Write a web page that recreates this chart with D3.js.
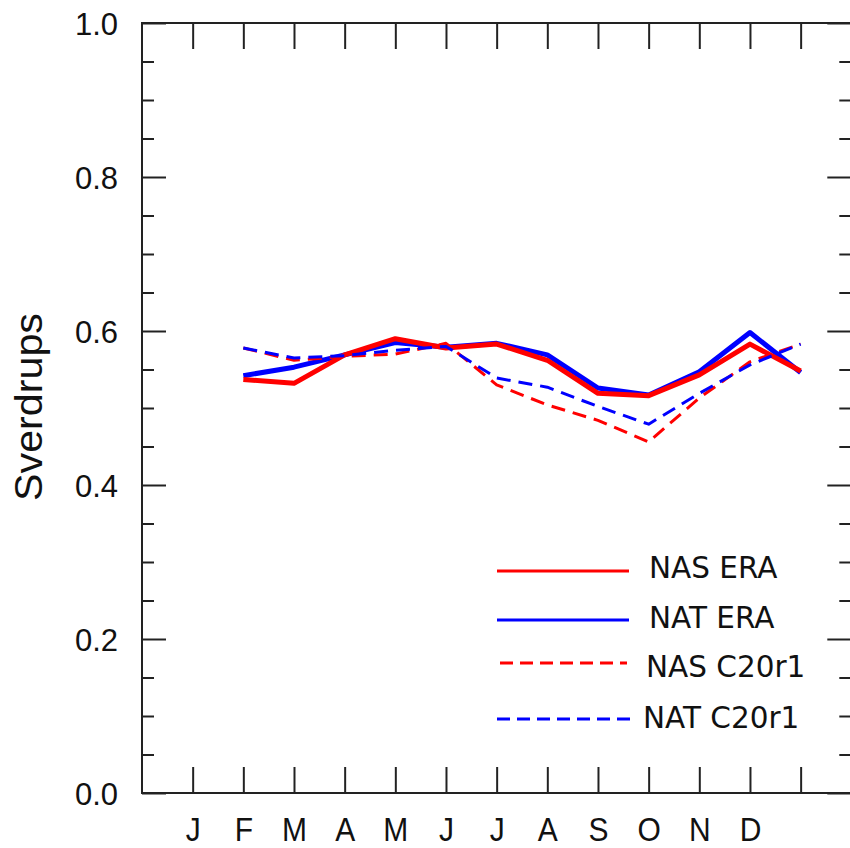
<!DOCTYPE html>
<html>
<head>
<meta charset="utf-8">
<script src="https://cdn.jsdelivr.net/npm/d3@7"></script>
<style>
  html, body { margin: 0; padding: 0; background: #ffffff; }
  svg { display: block; }
</style>
</head>
<body>
<svg id="chart" width="850" height="848"></svg>
<script>
// ---------- data ----------
const monthLabels = ["J", "F", "M", "A", "M", "J", "J", "A", "S", "O", "N", "D", ""];
const monthPositions = [1, 2, 3, 4, 5, 6, 7, 8, 9, 10, 11, 12, 13];
const dataPositions = [2, 3, 4, 5, 6, 7, 8, 9, 10, 11, 12, 13];
const yMajorTicks = [0, 0.2, 0.4, 0.6, 0.8, 1.0];
const yMinorTicks = [0.05, 0.1, 0.15, 0.25, 0.3, 0.35, 0.45, 0.5, 0.55, 0.65, 0.7, 0.75, 0.85, 0.9, 0.95];

const nasEra   = [0.537, 0.532, 0.569, 0.590, 0.578, 0.583, 0.562, 0.519, 0.516, 0.543, 0.583, 0.548];
const natEra   = [0.542, 0.553, 0.569, 0.585, 0.579, 0.584, 0.569, 0.526, 0.517, 0.547, 0.598, 0.546];
const nasC20r1 = [0.578, 0.562, 0.567, 0.570, 0.584, 0.530, 0.504, 0.484, 0.456, 0.513, 0.560, 0.583];
const natC20r1 = [0.578, 0.565, 0.568, 0.575, 0.580, 0.539, 0.527, 0.502, 0.479, 0.519, 0.556, 0.583];

const seriesNames = ["NAS ERA", "NAT ERA", "NAS C20r1", "NAT C20r1"];

// ---------- layout ----------
const svg = d3.select("#chart");
const plotLeft = 142, plotTop = 23, plotBottom = 793, plotRight = 851.3;
const x = d3.scaleLinear().domain([0, 14]).range([plotLeft, plotRight]);
const y = d3.scaleLinear().domain([0, 1]).range([plotBottom, plotTop]);

const axisColor = "#222";
const tickFont = "'Liberation Sans', Arial, Helvetica, sans-serif";

// frame
svg.append("rect")
  .attr("x", plotLeft).attr("y", plotTop)
  .attr("width", plotRight - plotLeft).attr("height", plotBottom - plotTop)
  .attr("fill", "none").attr("stroke", axisColor).attr("stroke-width", 2);

function styleAxis(g) {
  g.select(".domain").remove();
  g.selectAll(".tick line").attr("stroke", axisColor).attr("stroke-width", 2);
}

// left major
svg.append("g").attr("transform", `translate(${plotLeft},0)`)
  .call(d3.axisLeft(y).tickValues(yMajorTicks).tickSize(-24).tickPadding(24).tickFormat(d3.format(".1f")))
  .call(styleAxis)
  .call(g => g.selectAll("text")
    .attr("font-family", tickFont).attr("font-size", 31).attr("fill", "#111")
    .attr("dy", "0.36em"));
// left minor
svg.append("g").attr("transform", `translate(${plotLeft},0)`)
  .call(d3.axisLeft(y).tickValues(yMinorTicks).tickSize(-12).tickFormat(""))
  .call(styleAxis);
// right major / minor
svg.append("g").attr("transform", `translate(${plotRight},0)`)
  .call(d3.axisRight(y).tickValues(yMajorTicks).tickSize(-24).tickFormat(""))
  .call(styleAxis);
svg.append("g").attr("transform", `translate(${plotRight},0)`)
  .call(d3.axisRight(y).tickValues(yMinorTicks).tickSize(-12).tickFormat(""))
  .call(styleAxis);
// bottom
svg.append("g").attr("transform", `translate(0,${plotBottom})`)
  .call(d3.axisBottom(x).tickValues(monthPositions).tickSize(-26)
    .tickFormat((d, i) => monthLabels[i]))
  .call(styleAxis)
  .call(g => g.selectAll("text")
    .attr("font-family", tickFont).attr("font-size", 30).attr("fill", "#111")
    .attr("dy", 0)
    .attr("y", 48)
    .attr("transform", "translate(0,48) scale(1,1.1) translate(0,-48)"));
// top
svg.append("g").attr("transform", `translate(0,${plotTop})`)
  .call(d3.axisTop(x).tickValues(monthPositions).tickSize(-26).tickFormat(""))
  .call(styleAxis);

// y label
svg.append("text")
  .attr("transform", "translate(42,407) rotate(-90)")
  .attr("text-anchor", "middle")
  .attr("font-family", tickFont).attr("font-size", 38).attr("fill", "#111")
  .attr("textLength", 188).attr("lengthAdjust", "spacingAndGlyphs")
  .text("Sverdrups");

// ---------- lines ----------
const line = d3.line().x((d, i) => x(dataPositions[i])).y(d => y(d));
const plotOrder = [
  { data: natEra, color: "#0000ff", width: 5, dash: null },
  { data: nasEra, color: "#ff0000", width: 5, dash: null },
  { data: nasC20r1, color: "#ff0000", width: 3, dash: "14,8" },
  { data: natC20r1, color: "#0000ff", width: 3, dash: "14,8" }
];
plotOrder.forEach(s => {
  svg.append("path").datum(s.data)
    .attr("d", line)
    .attr("fill", "none")
    .attr("stroke", s.color)
    .attr("stroke-width", s.width)
    .attr("stroke-linejoin", "round")
    .attr("stroke-dasharray", s.dash);
});

// ---------- legend ----------
const legendItems = [
  { name: seriesNames[0], color: "#ff0000", dash: null, ly: 571, x1: 497, x2: 629, tx: 649, ty: 578 },
  { name: seriesNames[1], color: "#0000ff", dash: null, ly: 620, x1: 497, x2: 629, tx: 649, ty: 628 },
  { name: seriesNames[2], color: "#ff0000", dash: "13,7", ly: 663, x1: 500, x2: 627, tx: 646, ty: 677 },
  { name: seriesNames[3], color: "#0000ff", dash: "13,7", ly: 719, x1: 497, x2: 630, tx: 643, ty: 728 }
];
const lg = svg.append("g");
legendItems.forEach(it => {
  lg.append("line")
    .attr("x1", it.x1).attr("x2", it.x2).attr("y1", it.ly).attr("y2", it.ly)
    .attr("stroke", it.color).attr("stroke-width", 3)
    .attr("stroke-dasharray", it.dash);
  lg.append("text")
    .attr("x", it.tx).attr("y", it.ty)
    .attr("font-family", "'DejaVu Sans', sans-serif").attr("font-size", 29.5)
    .attr("fill", "#111")
    .text(it.name);
});
</script>
</body>
</html>
